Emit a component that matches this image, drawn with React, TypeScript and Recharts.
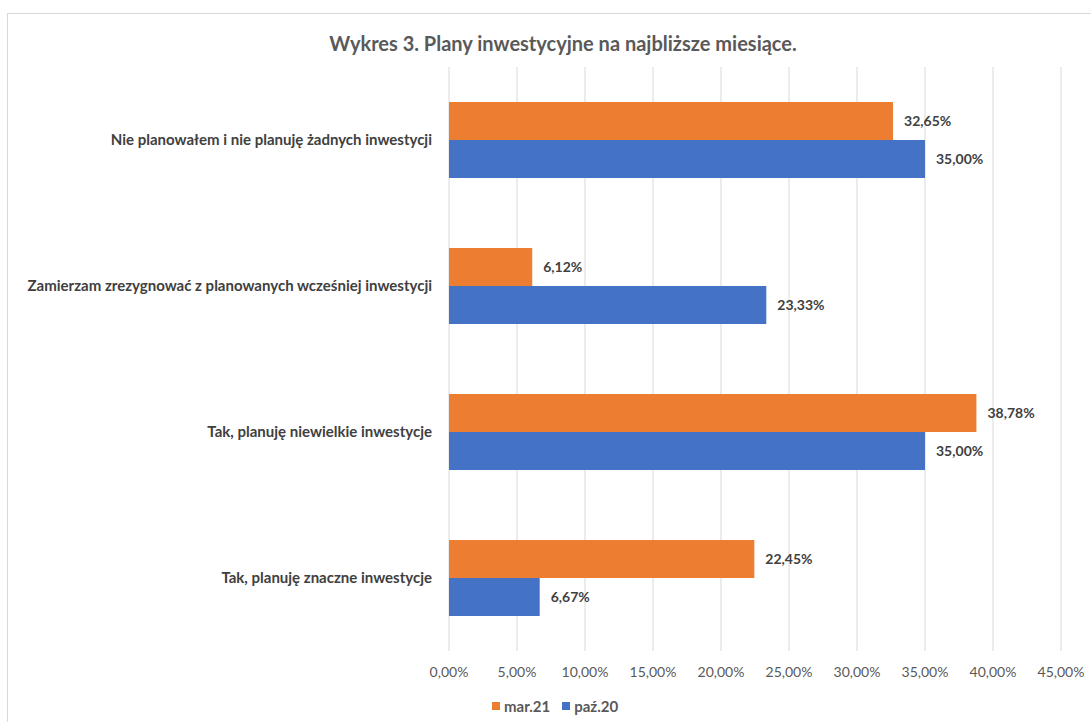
import React from "react";
import { BarChart, Bar, XAxis, YAxis, CartesianGrid, LabelList } from "recharts";

const CATEGORIES = [
  "Nie planowałem i nie planuję żadnych inwestycji",
  "Zamierzam zrezygnować z planowanych wcześniej inwestycji",
  "Tak, planuję niewielkie inwestycje",
  "Tak, planuję znaczne inwestycje",
];
const MAR21 = [32.65, 6.12, 38.78, 22.45];
const PAZ20 = [35.0, 23.33, 35.0, 6.67];
const X_TICKS = [0, 5, 10, 15, 20, 25, 30, 35, 40, 45];

const SERIES = [
  { key: "mar21", name: "mar.21", color: "#ED7D31" },
  { key: "paz20", name: "paź.20", color: "#4472C4" },
];

const FONT = "Lato, 'Open Sans', sans-serif";

const fmtPct = (v: number) => v.toFixed(2).replace(".", ",") + "%";

const data = CATEGORIES.map((name, i) => ({ name, mar21: MAR21[i], paz20: PAZ20[i] }));

export default function App() {
  return (
    <div
      style={{
        position: "absolute",
        left: 0,
        top: 0,
        width: 1091,
        height: 722,
        background: "#fff",
        fontFamily: FONT,
        overflow: "hidden",
      }}
    >
      {/* chart frame, runs off the right and bottom edge */}
      <div
        style={{
          position: "absolute",
          left: 7,
          top: 13,
          width: 1200,
          height: 800,
          border: "1px solid #d9d9d9",
          boxSizing: "border-box",
        }}
      />
      <div
        style={{
          position: "absolute",
          left: 0,
          top: 31,
          width: 1126,
          textAlign: "center",
          fontSize: 20,
          lineHeight: "24px",
          fontWeight: 700,
          color: "#595959",
        }}
      >
        Wykres 3. Plany inwestycyjne na najbliższe miesiące.
      </div>
      <div style={{ position: "absolute", left: 0, top: 0 }}>
        <BarChart
          width={1091}
          height={722}
          data={data}
          layout="vertical"
          margin={{ top: 67, right: 30, bottom: 41, left: 0 }}
          barCategoryGap={35}
          barGap={0}
        >
          <CartesianGrid horizontal={false} stroke="#d9d9d9" />
          <XAxis
            type="number"
            domain={[0, 45]}
            ticks={X_TICKS}
            tickFormatter={fmtPct}
            height={30}
            axisLine={false}
            tickLine={false}
            tickMargin={10}
            tick={{ fill: "#595959", fontSize: 14, fontFamily: FONT }}
          />
          <YAxis
            type="category"
            dataKey="name"
            width={449}
            axisLine={false}
            tickLine={false}
            tickMargin={11}
            tick={{ fill: "#404040", fontSize: 15, fontWeight: 700, fontFamily: FONT }}
          />
          {SERIES.map((s) => (
            <Bar key={s.key} dataKey={s.key} name={s.name} fill={s.color} isAnimationActive={false}>
              <LabelList
                dataKey={s.key}
                position="right"
                offset={11}
                formatter={(v: number) => fmtPct(v)}
                style={{ fill: "#404040", fontSize: 14, fontWeight: 700, fontFamily: FONT }}
              />
            </Bar>
          ))}
        </BarChart>
      </div>
      <div
        style={{
          position: "absolute",
          left: 492,
          top: 696,
          display: "flex",
          alignItems: "center",
          gap: 12,
          fontSize: 15,
          lineHeight: "20px",
          fontWeight: 700,
          color: "#595959",
        }}
      >
        {SERIES.map((s) => (
          <span key={s.key} style={{ display: "flex", alignItems: "center", gap: 4 }}>
            <span style={{ width: 8, height: 8, background: s.color, display: "inline-block" }} />
            {s.name}
          </span>
        ))}
      </div>
    </div>
  );
}
